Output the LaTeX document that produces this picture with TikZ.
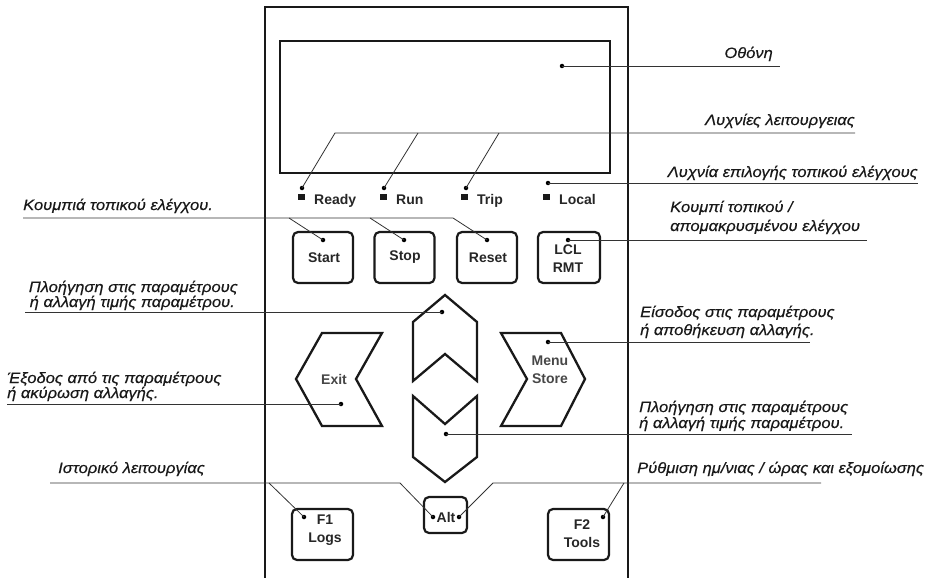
\documentclass[tikz,border=0pt]{standalone}
\usepackage{fontspec}
\setmainfont{Liberation Sans}
\begin{document}
\begin{tikzpicture}[x=1pt,y=-1pt,
  frame/.style={line width=2pt, black!90},
  key/.style={draw, line width=2.2pt, rounded corners=5pt, black!90, inner sep=0pt},
  arrowkey/.style={line width=2.3pt, black!90, line join=miter},
  lead/.style={line width=0.8pt, black!80},
  lbl/.style={font=\fontsize{15}{17}\selectfont\itshape\addfontfeature{FakeBold=0.35,FakeStretch=1.1}, inner sep=0pt, text=black!90},
  btxt/.style={font=\fontsize{14}{18}\selectfont\bfseries, inner sep=0pt, text=black!85, align=center},
  rtxt/.style={font=\fontsize{14}{18}\selectfont\bfseries, inner sep=0pt, text=black!72, align=center},
  ledtxt/.style={font=\fontsize{14}{16}\selectfont\bfseries, inner sep=0pt, text=black!85, anchor=base west},
  dotc/.style={circle, fill=black, inner sep=0pt, minimum size=4.5pt},
  lamp/.style={fill=black!90, inner sep=0pt, minimum width=7pt, minimum height=6pt}
]
\useasboundingbox (0,0) rectangle (948,578);

% panel and screen
\draw[frame] (265,578) -- (265,7) -- (628,7) -- (628,578);
\draw[line width=2.5pt, black!90] (280,41) rectangle (610,173);

% screen
\node[dotc] (dScreen) at (562,66) {};
\coordinate (eScreen) at (780,66);
\draw[lead] (dScreen.center) -- (eScreen);
\node[lbl, anchor=base east] (tScreen) at (773,58) {Οθόνη};

% indicator lamps
\node[lamp] (sqReady) at (301,197) {};
\node[lamp] (sqRun) at (383,197) {};
\node[lamp] (sqTrip) at (464,197) {};
\node[lamp] (sqLocal) at (546,197) {};
\node[ledtxt] (tReady) at (314,204) {Ready};
\node[ledtxt] (tRun) at (396,204) {Run};
\node[ledtxt] (tTrip) at (477,204) {Trip};
\node[ledtxt] (tLocal) at (559,204) {Local};

\node[dotc] (dReady) at (302,188) {};
\node[dotc] (dRun) at (384,188) {};
\node[dotc] (dTrip) at (466,188) {};
\coordinate (lampA) at (335,133);
\coordinate (lampB) at (418,133);
\coordinate (lampC) at (499,133);
\coordinate (lampE) at (855,133);
\draw[lead] (lampE) -- (lampA) -- (dReady.center);
\draw[lead] (lampB) -- (dRun.center);
\draw[lead] (lampC) -- (dTrip.center);
\node[lbl, anchor=base east] (tLamps) at (855,125) {Λυχνίες λειτουργειας};

\node[dotc] (dLocal) at (548,183) {};
\coordinate (eLocal) at (918,183);
\draw[lead] (dLocal.center) -- (eLocal);
\node[lbl, anchor=base east] (tLocalSel) at (918,177) {Λυχνία επιλογής τοπικού ελέγχους};

% control keys
\node[key, minimum width=60pt, minimum height=51pt] (kStart) at (323,257.5) {};
\node[key, minimum width=60pt, minimum height=51pt] (kStop) at (404.5,257.5) {};
\node[key, minimum width=60pt, minimum height=51pt] (kReset) at (487,257.5) {};
\node[key, minimum width=62pt, minimum height=51pt] (kLcl) at (569,257.5) {};
\node[btxt] (tStart) at (324,258) {Start};
\node[btxt] (tStop) at (405,257) {Stop};
\node[btxt] (tReset) at (488,258) {Reset};
\node[btxt] (tLcl) at (568,259) {LCL\\RMT};

\node[dotc] (dStart) at (323,240) {};
\node[dotc] (dStop) at (404,240) {};
\node[dotc] (dReset) at (487,240) {};
\node[dotc] (dLcl) at (568,240) {};
\coordinate (keysL) at (23,218);
\coordinate (keysA) at (289,218);
\coordinate (keysB) at (370,218);
\coordinate (keysC) at (453,218);
\draw[lead] (keysL) -- (keysC) -- (dReset.center);
\draw[lead] (keysA) -- (dStart.center);
\draw[lead] (keysB) -- (dStop.center);
\node[lbl, anchor=base west] (tKeys) at (23,210) {Κουμπιά τοπικού ελέγχου.};

\coordinate (eLcl) at (867,240);
\draw[lead] (dLcl.center) -- (eLcl);
\node[lbl, anchor=base west] (tLcl1) at (670,212) {Κουμπί τοπικού /};
\node[lbl, anchor=base west] (tLcl2) at (670,231) {απομακρυσμένου ελέγχου};

% arrow keys
\draw[arrowkey] (445,295) -- (477,322) -- (477,381) -- (445,354) -- (413,381) -- (413,322) -- cycle;
\draw[arrowkey] (413,396) -- (445,424) -- (477,396) -- (477,457) -- (445,482) -- (413,457) -- cycle;
\draw[arrowkey] (322,333) -- (382,333) -- (356,379) -- (382,426) -- (322,426) -- (296,379) -- cycle;
\draw[arrowkey] (501,333) -- (561,333) -- (585,379) -- (561,426) -- (501,426) -- (527,379) -- cycle;
\node[rtxt] (tExit) at (334,379) {Exit};
\node[rtxt] (tMenu) at (550,370) {Menu\\Store};

\node[dotc] (dUp) at (442,312) {};
\coordinate (eUp) at (25,312);
\draw[lead] (eUp) -- (dUp.center);
\node[lbl, anchor=base east] (tUp1) at (238,292) {Πλοήγηση στις παραμέτρους};
\node[lbl, anchor=base east] (tUp2) at (235,307) {ή αλλαγή τιμής παραμέτρου.};

\node[dotc] (dExit) at (341,404) {};
\coordinate (eExit) at (7,404);
\draw[lead] (eExit) -- (dExit.center);
\node[lbl, anchor=base west] (tExit1) at (7,383) {Έξοδος από τις παραμέτρους};
\node[lbl, anchor=base west] (tExit2) at (7,398) {ή ακύρωση αλλαγής.};

\node[dotc] (dMenu) at (548,342) {};
\coordinate (eMenu) at (810,342);
\draw[lead] (dMenu.center) -- (eMenu);
\node[lbl, anchor=base west] (tMenu1) at (640,317) {Είσοδος στις παραμέτρους};
\node[lbl, anchor=base west] (tMenu2) at (640,335) {ή αποθήκευση αλλαγής.};

\node[dotc] (dDown) at (446,434) {};
\coordinate (eDown) at (852,434);
\draw[lead] (dDown.center) -- (eDown);
\node[lbl, anchor=base west] (tDown1) at (639,412) {Πλοήγηση στις παραμέτρους};
\node[lbl, anchor=base west] (tDown2) at (639,428) {ή αλλαγή τιμής παραμέτρου.};

% bottom keys
\node[key, minimum width=43pt, minimum height=36pt] (kAlt) at (445.5,515) {};
\node[btxt] (tAlt) at (446,517) {Alt};
\node[key, minimum width=61pt, minimum height=51pt] (kF1) at (322.5,534.5) {};
\node[key, minimum width=61pt, minimum height=51pt] (kF2) at (578.5,534.5) {};
\node[btxt] (tF1) at (325,530) {F1\\Logs};
\node[btxt] (tF2) at (582,534) {F2\\Tools};

\node[dotc] (dAltL) at (433,517) {};
\node[dotc] (dAltR) at (459,517) {};
\node[dotc] (dF1) at (304,517) {};
\node[dotc] (dF2) at (603,517) {};
\coordinate (logL) at (50,483);
\coordinate (logA) at (269,483);
\coordinate (logB) at (400,483);
\draw[lead] (logL) -- (logB) -- (dAltL.center);
\draw[lead] (logA) -- (dF1.center);
\node[lbl, anchor=base west] (tLogs) at (58,473) {Ιστορικό λειτουργίας};

\coordinate (toolR) at (821,483);
\coordinate (toolA) at (493,483);
\coordinate (toolB) at (624,483);
\draw[lead] (toolR) -- (toolA) -- (dAltR.center);
\draw[lead] (toolB) -- (dF2.center);
\node[lbl, anchor=base west] (tTools) at (637,473) {Ρύθμιση ημ/νιας / ώρας και εξομοίωσης};
\end{tikzpicture}
\end{document}
